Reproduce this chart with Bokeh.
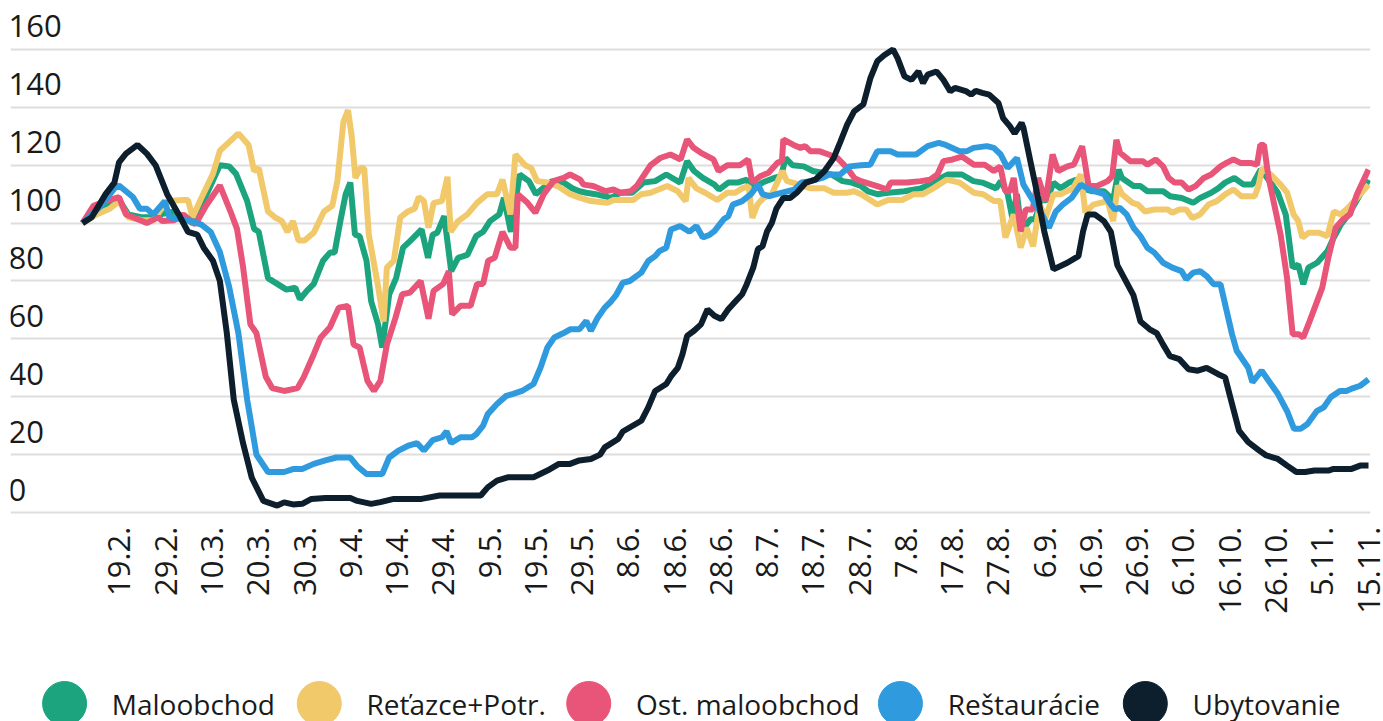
import math
import datetime as dt
from bokeh.plotting import figure
from bokeh.models import Range1d, FixedTicker, Grid
from bokeh.layouts import column
from bokeh.embed import file_html
from bokeh.resources import INLINE
from bokeh.core.properties import value

# ---------------- data ----------------
START = dt.date(2020, 2, 11)   # day 0 of the series

tick_labels = ["19.2.", "29.2.", "10.3.", "20.3.", "30.3.", "9.4.", "19.4.", "29.4.",
               "9.5.", "19.5.", "29.5.", "8.6.", "18.6.", "28.6.", "8.7.", "18.7.",
               "28.7.", "7.8.", "17.8.", "27.8.", "6.9.", "16.9.", "26.9.", "6.10.",
               "16.10.", "26.10.", "5.11.", "15.11."]

y_ticks = [0, 20, 40, 60, 80, 100, 120, 140, 160]
y_labels = [str(v) for v in y_ticks]

series_names = ["Maloobchod", "Reťazce+Potr.", "Ost. maloobchod", "Reštaurácie", "Ubytovanie"]
series_colors = ["#1ba47e", "#f1c96b", "#e85578", "#2f9bde", "#0d1e2d"]

maloobchod_day = [0, 3, 5.9, 7.9, 9.9, 12.9, 14.9, 16.8, 19.8, 21.8, 23.8, 25.7, 27.7, 29.7, 31.7, 33.2,
                  35.6, 37.1, 38.1, 40.1, 42.1, 44.1, 46, 47, 48.5, 50, 52, 53.5, 54.5, 55.9, 56.9, 57.9,
                  58.9, 59.9, 61.4, 62.4, 63.9, 64.8, 66.3, 67.8, 69.3, 70.8, 73.3, 74.7, 75.7, 76.7,
                  78.2, 79.7, 81.2, 83.2, 85.1, 86.6, 88.1, 90.1, 91.1, 92.6, 94.5, 96.5, 98, 99.5,
                  101.5, 104, 105.9, 107.4, 108.9, 110.9, 114.3, 116.3, 118.8, 121.3, 123.8, 126.2,
                  129.2, 130.7, 132.2, 134.1, 136.6, 137.6, 139.6, 141.6, 143.6, 145, 147, 149.5, 151,
                  152, 153.5, 155.9, 157.9, 159.9, 161.9, 164.3, 166.3, 168.3, 169.8, 171.8, 174.2,
                  177.7, 181.2, 183.2, 185.6, 187.1, 190.1, 192.6, 194.5, 197.5, 198.5, 200, 201, 202,
                  203, 204.9, 205.9, 207.4, 208.4, 209.9, 211.4, 213.3, 214.8, 216.3, 218.3, 220.8,
                  222.8, 224, 224.7, 227.2, 228.7, 230.2, 233.6, 235.1, 237.6, 240.1, 241.6, 244,
                  245.5, 247, 249, 251, 252.9, 254.7, 256.1, 258.4, 260.1, 261.6, 262.8, 263.9, 265,
                  266.9, 269.1, 270.5, 272, 273.7, 276.2, 278]
maloobchod_val = [100, 104, 107, 108, 103, 102, 102, 103, 104, 102, 100, 106, 113, 120, 119.6, 117,
                  107.6, 98, 97, 81, 79, 77, 77.7, 73.7, 76.6, 79, 87, 89.8, 89.8, 102, 110, 114,
                  96, 95.5, 87, 73, 65, 57, 75.4, 81, 91.5, 93.8, 97.8, 88, 96, 96.7,
                  102.4, 83.4, 88, 89, 95.5, 97, 100.7, 103, 108.7, 97, 116.8, 114.5, 110, 112,
                  114.5, 114, 112, 111, 110.5, 110, 108.7, 110.5, 110.5, 114, 114.5, 116.8,
                  114, 121.4, 118, 115.6, 113.3, 111.6, 114, 114, 115, 112, 114, 115.6, 116.2,
                  122.5, 120, 119.6, 118, 117.4, 116.8, 114.5, 114, 112.8, 111, 110, 110.5,
                  111, 112, 113.3, 115.6, 116.8, 116.8, 114.5, 114, 112, 114.5, 110, 101.8, 110,
                  97.2, 101.3, 101.3, 108.7, 107.6, 114, 112, 114, 115, 112, 111, 111,
                  108, 118.5, 115.6, 112.8, 112.8, 111, 111, 109.3, 108.7, 107, 108.7, 110.5,
                  112, 114, 115.6, 113.3, 113.3, 118.5, 115.6, 110.5, 103, 84.6, 85.7, 78.9, 84.6,
                  86.3, 90.3, 95, 99.5, 103, 110, 115]

retazce_day = [0, 3, 5.9, 7.9, 9.9, 12.9, 15.3, 18.3, 21.8, 22.8, 23.8, 25.5, 28.2, 29.7, 31.7, 33.7,
               35.9, 37.1, 38.1, 40.1, 41.6, 43.1, 44.3, 45.5, 46.7, 48, 50, 52.2, 54, 55.1, 56.4,
               57.4, 58.2, 59, 60.1, 60.9, 61.9, 63.8, 65.1, 65.8, 67.3, 68.7, 70.3, 71.8, 72.7,
               73.8, 74.8, 75.9, 77.7, 78.9, 79.6, 81.2, 83.2, 85.3, 87.5, 89.6, 90.8, 92.5, 93.6,
               95.7, 97, 98.3, 100.5, 102.7, 105.4, 107.6, 109.9, 113.5, 114.8, 119.1, 120.8, 122.8,
               126.4, 128.7, 130.4, 131, 132.7, 134.6, 137.2, 139.4, 141.1, 142.6, 144, 144.8, 145.9,
               147.2, 149, 151.3, 152.3, 153.5, 157.4, 160.4, 162.4, 165.3, 166.8, 168.3, 171.8,
               174.2, 177.2, 179.7, 181.7, 183.9, 186.8, 189.6, 192.7, 194.7, 197, 198.4, 199.5,
               201.3, 202.8, 204.1, 205.5, 206.9, 208.2, 209.9, 211.4, 214.1, 215.8, 216.8, 218.5,
               221.6, 222.8, 223.8, 224.7, 227, 228.2, 229.7, 231.7, 234.6, 235.6, 237.1, 238.6,
               239.9, 241.6, 243.4, 245.2, 247.1, 248.8, 250.5, 253.4, 254.2, 255, 256.8, 259,
               260.4, 261.8, 262.8, 263.7, 265.1, 267.3, 269.1, 270.5, 272, 273.6, 275.5, 278]
retazce_val = [100, 103, 105, 107.6, 102, 101, 101, 107.6, 108, 108, 102, 108, 117, 125, 128, 131,
               127, 118, 119, 104, 102, 100.7, 97, 100.7, 94, 94, 96.7, 104, 106, 114.5, 135,
               139, 130, 115.6, 119, 119, 96, 79, 66, 84.6, 87, 102, 104, 105, 109,
               107.6, 98.4, 107, 107.6, 116, 97, 100.7, 103, 107, 110, 110, 115, 103, 123.7,
               120, 119, 114.5, 114, 112.8, 110, 108.7, 107.6, 107, 108, 108, 110, 110.5,
               112.8, 111, 107.6, 115.6, 112, 110.5, 108, 110.5, 110.5, 112, 112.8, 101.8, 106.4,
               108.7, 110, 118, 114.5, 114, 112, 112, 110.5, 110.5, 111, 110, 106.4,
               108, 108, 110, 110, 112, 115, 114, 110.5, 110, 107.6, 107.6, 95,
               103, 91.5, 98.4, 92, 106.4, 101.8, 110, 110, 112, 116.8, 103.6, 106.4,
               107.6, 100.7, 113, 110, 107, 106.4, 104, 104.7, 104.7, 103.6, 104.7, 104.7,
               101.8, 103, 106.4, 107.6, 110, 111.6, 109.3, 109.3, 112.8, 119, 116.8, 113.3,
               110.5, 103, 100.7, 95, 96.7, 96.7, 95.5, 104, 103, 105.3, 108.7, 113.3]

ost_day = [0, 2.4, 5, 7.9, 9.4, 10.9, 13.9, 16.3, 17.3, 19.8, 21.8, 24.4, 26.7, 29.7, 32, 33.4,
           34.7, 36.3, 37.6, 39.6, 41, 43.6, 46.5, 47.8, 50, 51.5, 53.5, 55.4, 57.4, 58.6, 59.9,
           61.6, 63, 64.4, 65.8, 67.6, 69.1, 70.8, 73.1, 74.8, 75.9, 78, 79.2, 79.9, 81.7, 83.9,
           85.3, 86.6, 87.7, 89.1, 90.8, 92.5, 93.6, 94.1, 96.2, 97.9, 99.7, 101.8, 104, 105.4,
           107.6, 108.3, 110.4, 113.1, 114.8, 116.3, 118.5, 119.8, 122.8, 124.9, 127.1, 129.3,
           130.7, 132.1, 133.7, 136.4, 137.5, 139.4, 142.1, 143.9, 144.8, 146.5, 148.3, 150.2,
           151.2, 151.5, 153.7, 155.2, 156.2, 157.4, 159.4, 161.3, 163.2, 165.3, 166.9, 168.3,
           171.8, 173.9, 174.7, 178.2, 181.2, 183.2, 184.8, 186.1, 188.1, 190.1, 192.7, 195, 197,
           198.4, 199.5, 200.5, 201.3, 202.8, 203.9, 205.4, 206.6, 208.2, 209.7, 210.9, 212.9,
           214.3, 216.1, 217.5, 219.3, 221.6, 222.6, 223.5, 224.3, 226.5, 229.2, 230.2, 232,
           233.6, 234.8, 236.1, 237.6, 239.1, 240.6, 242.4, 244, 246, 247.3, 248.8, 250.3, 252.5,
           253.9, 254.6, 255.4, 256.4, 259, 260.4, 261.6, 262.9, 263.9, 265.3, 268, 269.3, 270.9,
           272.5, 274, 275.5, 278]
ost_val = [100, 106, 107.6, 109, 103, 102, 100, 102, 100.7, 101, 103, 99.5, 106, 113, 104, 98,
           85, 65, 62, 47, 43, 42, 43, 46.7, 54.7, 60.5, 64, 70.8, 71.4, 58, 57,
           45.5, 42, 45.5, 58, 67, 75.4, 76, 80, 67, 76.6, 79, 83.4, 68.5, 71.4, 71.4,
           79, 79, 87, 88, 97, 91.5, 91.5, 110, 107, 103.6, 110, 114.5, 115.6, 116.8,
           115, 113.3, 112.8, 111, 111.6, 110.5, 111, 112.8, 120, 122.5, 123.7, 122,
           128.9, 126, 124.3, 122, 118, 120, 120, 122, 114, 116.2, 117.4, 120.8,
           121.4, 128.9, 127, 126, 126.6, 124.8, 124.8, 123.7, 122.5, 119, 115.5, 114.5,
           112.8, 111.6, 114, 114, 114.5, 115, 116.8, 121.4, 122, 123, 120.2, 120.2, 118,
           119.6, 111, 111, 115.6, 97.2, 104.7, 104.7, 115.6, 107.6, 123.7, 118, 119.6,
           120.2, 126.6, 112.8, 112.8, 114.5, 116.2, 128.8, 124.3, 121.4, 121.4, 120.2, 122,
           119.6, 115.6, 114, 114, 111.6, 112.8, 115.6, 116.8, 119.6, 120.8, 122, 120.8, 120.8,
           120.2, 127, 127, 115.6, 96, 81, 61.6, 61.6, 60.5, 66.2, 77.7, 88, 98.4,
           101.3, 103, 110, 118.5]

restauracie_day = [0, 4, 6.9, 7.9, 10.9, 12.4, 13.9, 15.3, 17.8, 18.8, 22.8, 25.7, 27.7, 29.7, 31.7,
                   33.7, 35.6, 37.6, 40.1, 43.6, 45.5, 47.5, 50, 52.5, 54.9, 57.9, 59.4, 61.4, 64.8,
                   66.3, 68.3, 70.3, 72.3, 73.8, 75.7, 77.7, 78.7, 79.7, 81.7, 84.2, 85.1, 86.6, 87.6,
                   89.6, 91.6, 93.1, 95, 97.5, 99, 100.5, 102, 104, 105.4, 107.4, 108.9, 109.9, 111.4,
                   112.9, 114.3, 115.3, 116.8, 118.3, 120.8, 122.3, 123.8, 124.7, 126.2, 127.2, 129.2,
                   131.2, 132.7, 134.1, 135.6, 136.6, 138.6, 139.6, 140.6, 142.6, 144.5, 146, 147,
                   148.5, 150, 152.5, 153.9, 155.4, 157.4, 159.9, 161.4, 163.8, 165.8, 168.3, 170.3,
                   171.8, 174.7, 176.2, 180.2, 182.7, 185.1, 186.6, 189.6, 191.1, 192.6, 195.5, 197,
                   198.5, 200, 201, 202, 203.4, 205.4, 207.4, 208.9, 210.4, 211.9, 213.8, 215.8,
                   217.8, 220.8, 222.3, 223.2, 224.2, 225.7, 227.2, 228.7, 230.2, 231.7, 233.6, 235.6,
                   237.6, 238.6, 240.1, 241.6, 243, 244.5, 246, 247.5, 248.5, 249.5, 252, 252.9, 254.9,
                   256.9, 258.4, 260.4, 261.9, 263.3, 264.8, 266.8, 268.3, 269.8, 271.8, 273.2, 274.7,
                   276.2, 278]
restauracie_val = [100, 106, 112, 113, 109, 105, 105, 103, 107.6, 102, 101, 99.5, 97, 90, 78,
                   62, 39, 20, 14, 14, 15, 15, 16.8, 18, 19, 19, 16, 13.3, 13.3,
                   19, 21.4, 23, 24, 21.4, 25, 26, 28, 24, 26, 26, 27, 30, 34,
                   37.5, 40.3, 41, 42, 44.4, 50, 57, 60.5, 62, 63.3, 63.3, 66.2, 62.8, 67.4,
                   70.8, 73, 75, 79.4, 80, 82.9, 86.9, 88.6, 90.3, 91.5, 97.8, 99,
                   97, 99, 95, 96, 97.2, 101.3, 102.4, 106.4, 107.6, 110, 113.3, 110,
                   109.3, 110, 111, 111.6, 114, 114.5, 115.6, 116.8, 116.8, 119.6, 120, 120.2,
                   124.8, 124.8, 123.7, 123.7, 126.6, 127.7, 127, 124.8, 124.8, 126, 126.6, 126,
                   123.7, 119, 120.8, 122.5, 113.3, 108, 103, 98.4, 104, 106.4, 108.7, 113.3,
                   111.6, 110, 106.4, 104.7, 105.3, 103, 98.4, 95.5, 91.5, 89.8, 86.3, 84.6,
                   83.4, 80.6, 82.9, 83.4, 81.7, 78.9, 78.9, 68.5, 61.6, 55.9, 50, 45, 49,
                   44.4, 41, 35, 28.9, 28.9, 30.6, 35, 36.3, 39.8, 42, 42, 43,
                   43.8, 46]

ubytovanie_day = [0, 2, 5, 6.9, 7.9, 9.4, 11.9, 13.9, 15.8, 18.3, 20.8, 22.8, 24.8, 26.2, 28.2, 29.7,
                  31.2, 32.7, 34.7, 36.6, 39.1, 42.1, 43.6, 45.5, 47.5, 49.5, 52.5, 57.9, 59.4, 62.4,
                  64.4, 67.3, 73.3, 77.2, 86.1, 87.6, 89.6, 92.1, 97.5, 100.5, 103, 105.4, 107.4,
                  109.9, 111.9, 112.9, 115.8, 116.8, 120.8, 122.3, 123.8, 126.2, 127.2, 128.7, 129.7,
                  130.7, 132.2, 133.7, 135.1, 136.6, 138.1, 139.6, 140.6, 142.6, 143.6, 145, 146, 147,
                  148, 149, 150, 151.5, 153, 154.4, 156.4, 158.4, 160.4, 162.4, 163.8, 165.3, 166.8,
                  168.8, 170.3, 171.8, 173.3, 175.2, 176.2, 177.7, 179.2, 180.7, 181.7, 182.7, 184.6,
                  186.1, 187.6, 188.6, 191.1, 192.1, 193.1, 194.5, 196, 198, 199, 200.5, 201.5, 203,
                  203.4, 204.9, 206.4, 207.9, 209.9, 212.9, 215.3, 216.3, 217.3, 218.8, 220.8, 222.3,
                  223.7, 225.2, 227.2, 228.7, 230.7, 232.2, 233.6, 235.1, 237.1, 239.1, 241.1, 243,
                  245.5, 247, 248.5, 250, 252, 254.4, 255.9, 258.4, 260.4, 262.4, 264.3, 266.3, 269.3,
                  270.3, 274.2, 276.2, 278]
ubytovanie_val = [100, 102, 110, 114, 121, 124, 127, 124, 120, 110, 103, 97, 96, 91.5, 87, 80,
                  62, 39, 24, 12, 4, 2.4, 3.5, 2.8, 3, 4.7, 5, 5, 4, 3,
                  3.6, 4.7, 4.7, 5.9, 5.9, 8.7, 11, 12.2, 12.2, 14.5, 16.8, 16.8, 18,
                  18.5, 20, 22.5, 25.4, 28, 31.7, 36.3, 42, 44.4, 47, 50, 54.7,
                  61, 62.8, 65, 70.2, 68, 66.8, 70.2, 72, 75.4, 78.9, 84.6, 91, 92,
                  97.2, 100, 105, 108.7, 108.7, 110.5, 114, 115, 118, 122.5, 128, 134, 138.6,
                  141, 150, 155.9, 158, 160, 157, 150.7, 149.5, 152.4, 148.4, 151.3, 152.4,
                  149.5, 145.5, 146.7, 145.5, 144.4, 145.7, 145, 144.4, 141.5, 136.3, 133.4, 131, 134.6,
                  133, 121.4, 110, 97.2, 84, 86.3, 88.6, 97.2, 103, 103, 100.7, 97,
                  85.5, 81, 75, 66, 63.3, 62, 58, 54, 53, 49.5, 49, 50,
                  47.8, 46.7, 37.5, 28.3, 24.3, 21.4, 19.7, 18.5, 16.2, 14, 14, 14.5, 14.5,
                  15, 15, 16.2, 16.2]

series_days = [maloobchod_day, retazce_day, ost_day, restauracie_day, ubytovanie_day]
series_vals = [maloobchod_val, retazce_val, ost_val, restauracie_val, ubytovanie_val]


def label_day(s):
    d, m = s.strip(".").split(".")
    return (dt.date(2020, int(m), int(d)) - START).days


tick_days = [label_day(s) for s in tick_labels]

# ---------------- layout / style ----------------
FONT = "Open Sans"
TXT = "#1a1a1a"
W = 1383
MAIN_H = 616
LEG_H = 105
X0, X1 = -15.56, 278.43
Y0, Y1 = -1.38, 175.19

p = figure(width=W, height=MAIN_H, x_range=Range1d(X0, X1), y_range=Range1d(Y0, Y1),
           output_backend="svg", toolbar_location=None, y_axis_location=None,
           min_border_left=10, min_border_right=13, min_border_top=5, min_border_bottom=100)
p.outline_line_color = None
p.grid.visible = False
p.add_layout(Grid(dimension=1, ticker=FixedTicker(ticks=y_ticks),
                  grid_line_color="#dedede", grid_line_width=2))

ax = p.xaxis[0]
ax.ticker = FixedTicker(ticks=tick_days)
ax.major_label_overrides = {d: s for d, s in zip(tick_days, tick_labels)}
ax.major_label_orientation = math.pi / 2
ax.major_label_standoff = 4
ax.major_label_text_font = FONT
ax.major_label_text_font_size = "31px"
ax.major_label_text_color = TXT
ax.axis_line_color = None
ax.major_tick_line_color = None
ax.minor_tick_line_color = None

for days, vals, color in zip(series_days, series_vals, series_colors):
    p.line(days, vals, line_color=color, line_width=6)

p.text(x=[X0] * len(y_ticks), y=y_ticks, text=y_labels, text_font=value(FONT),
       text_font_size="31px", text_color=TXT, text_align="left",
       text_baseline="alphabetic", x_offset=-2, y_offset=-23)

# legend strip
leg = figure(width=W, height=LEG_H, x_range=Range1d(0, W), y_range=Range1d(LEG_H, 0),
             output_backend="svg", toolbar_location=None,
             x_axis_location=None, y_axis_location=None, min_border=0)
leg.outline_line_color = None
leg.grid.visible = False
legend_cx = [55, 314, 588, 905, 1154]
leg.scatter(legend_cx, [87] * 5, size=44, marker="circle", color=series_colors)
leg.text(x=[c + 48 for c in legend_cx], y=[87] * 5, text=series_names,
         text_font=value(FONT), text_font_size="28px", text_color=TXT,
         text_align="left", text_baseline="alphabetic")

layout = column(p, leg, spacing=0)
open("out.html", "w").write(file_html(layout, INLINE))
